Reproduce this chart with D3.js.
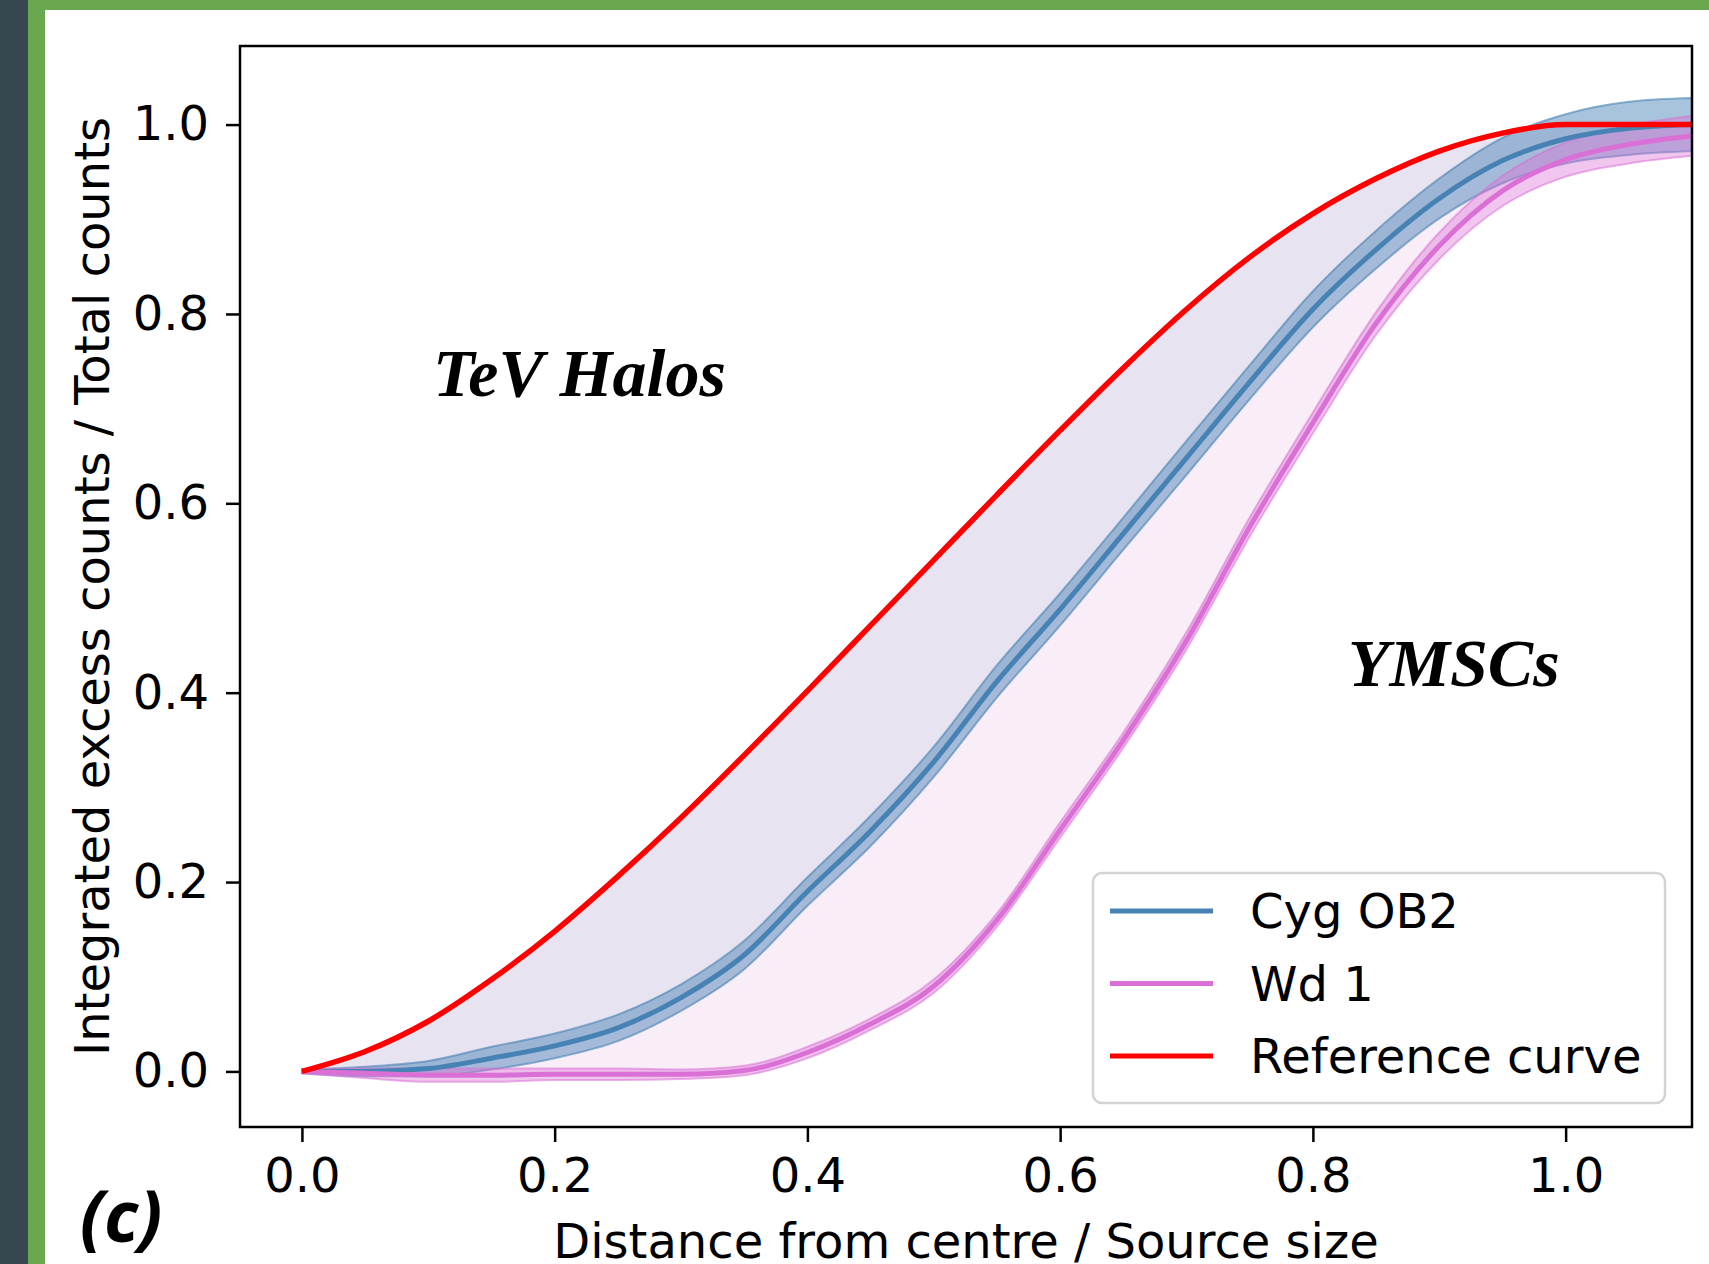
<!DOCTYPE html>
<html>

<head>
    <meta charset="utf-8">
    <title>Integrated excess counts</title>
    <script src="https://d3js.org/d3.v7.min.js"></script>
</head>
<style>
    body {
        margin: 0;
        background: #ffffff;
    }

    svg {
        display: block;
    }

    .tick text {
        font-family: "DejaVu Sans", sans-serif;
        font-size: 48px;
        fill: #000;
    }

    .tick line {
        stroke: #000;
        stroke-width: 2.5px;
    }

    .axis-label {
        font-family: "DejaVu Sans", sans-serif;
        font-size: 48px;
        fill: #000;
    }

    .region-label {
        font-family: "Liberation Serif", serif;
        font-style: italic;
        font-weight: bold;
        font-size: 68px;
        fill: #000;
    }
</style>

<body>
    <svg width="1709" height="1264"></svg>

    <script>
        // distance from centre / source size
        const distance = [0, 0.05, 0.1, 0.15, 0.2, 0.25, 0.3, 0.35, 0.4, 0.45, 0.5, 0.55,
            0.6, 0.65, 0.7, 0.75, 0.8, 0.85, 0.9, 0.95, 1.0, 1.05, 1.1];

        // reference curve
        const referenceCurve = [0, 0.021, 0.053, 0.097, 0.148, 0.206, 0.268, 0.334, 0.402, 0.471, 0.54, 0.609,
            0.677, 0.743, 0.805, 0.86, 0.906, 0.943, 0.972, 0.991, 1.0, 1.0, 1.0];

        // Cyg OB2 median and half width of its band
        const cygOB2 = [0, 0.0, 0.003, 0.014, 0.027, 0.046, 0.078, 0.123, 0.19, 0.254, 0.327, 0.412,
            0.488, 0.568, 0.648, 0.728, 0.805, 0.868, 0.922, 0.962, 0.985, 0.996, 1.0];
        const cygOB2Err = [0.002, 0.005, 0.008, 0.012, 0.013, 0.014, 0.014, 0.015, 0.015, 0.016, 0.016, 0.017,
            0.017, 0.017, 0.018, 0.018, 0.019, 0.02, 0.021, 0.024, 0.026, 0.028, 0.028];

        // Wd 1 median and half width of its band
        const wd1 = [0, -0.002, -0.004, -0.004, -0.003, -0.003, -0.003, 0.001, 0.02, 0.05, 0.09, 0.16,
            0.255, 0.35, 0.455, 0.575, 0.685, 0.79, 0.872, 0.93, 0.963, 0.979, 0.988];
        const wd1Err = [0.002, 0.005, 0.007, 0.007, 0.006, 0.006, 0.005, 0.005, 0.006, 0.006, 0.007, 0.007,
            0.008, 0.008, 0.009, 0.01, 0.011, 0.012, 0.014, 0.016, 0.018, 0.02, 0.021];

        const xTicks = [0, 0.2, 0.4, 0.6, 0.8, 1.0];
        const yTicks = [0, 0.2, 0.4, 0.6, 0.8, 1.0];

        const legendItems = [
            { label: "Cyg OB2", color: "steelblue" },
            { label: "Wd 1", color: "orchid" },
            { label: "Reference curve", color: "red" }
        ];

        const rows = distance.map((d, i) => ({
            x: d,
            ref: referenceCurve[i],
            cyg: cygOB2[i],
            cygErr: cygOB2Err[i],
            wd: wd1[i],
            wdErr: wd1Err[i]
        }));

        const W = 1709, H = 1264;
        const plot = { left: 240, right: 1692, top: 46, bottom: 1127 };

        const svg = d3.select("svg");

        // page frame (dark strip + green border)
        svg.append("rect").attr("x", 0).attr("y", 0).attr("width", 28).attr("height", H).attr("fill", "#37474f");
        svg.append("rect").attr("x", 28).attr("y", 0).attr("width", 17).attr("height", H).attr("fill", "#6aa84f");
        svg.append("rect").attr("x", 28).attr("y", 0).attr("width", W - 28).attr("height", 10).attr("fill", "#6aa84f");

        const x = d3.scaleLinear()
            .domain([-0.049, 1.1])
            .range([plot.left, plot.right]);

        const y = d3.scaleLinear()
            .domain([-0.0587, 1.083])
            .range([plot.bottom, plot.top]);

        svg.append("clipPath").attr("id", "clip")
            .append("rect")
            .attr("x", plot.left).attr("y", plot.top)
            .attr("width", plot.right - plot.left).attr("height", plot.bottom - plot.top);

        const g = svg.append("g").attr("clip-path", "url(#clip)");
        const curve = d3.curveMonotoneX;

        // shaded regions between curves
        g.append("path")
            .datum(rows)
            .attr("fill", "#e8e3f0")
            .attr("d", d3.area().curve(curve).x(d => x(d.x)).y0(d => y(d.cyg)).y1(d => y(d.ref)));

        g.append("path")
            .datum(rows)
            .attr("fill", "#f9edf7")
            .attr("d", d3.area().curve(curve).x(d => x(d.x)).y0(d => y(d.wd)).y1(d => y(d.cyg)));

        // uncertainty bands
        g.append("path")
            .datum(rows)
            .attr("fill", "steelblue")
            .attr("fill-opacity", 0.47)
            .attr("stroke", "steelblue")
            .attr("stroke-opacity", 0.6)
            .attr("stroke-width", 2)
            .attr("d", d3.area().curve(curve).x(d => x(d.x)).y0(d => y(d.cyg - d.cygErr)).y1(d => y(d.cyg + d.cygErr)));

        g.append("path")
            .datum(rows)
            .attr("fill", "orchid")
            .attr("fill-opacity", 0.4)
            .attr("stroke", "orchid")
            .attr("stroke-opacity", 0.55)
            .attr("stroke-width", 2)
            .attr("d", d3.area().curve(curve).x(d => x(d.x)).y0(d => y(d.wd - d.wdErr)).y1(d => y(d.wd + d.wdErr)));

        // median lines
        g.append("path")
            .datum(rows)
            .attr("fill", "none")
            .attr("stroke", "steelblue")
            .attr("stroke-width", 5)
            .attr("d", d3.line().curve(curve).x(d => x(d.x)).y(d => y(d.cyg)));

        g.append("path")
            .datum(rows)
            .attr("fill", "none")
            .attr("stroke", "orchid")
            .attr("stroke-width", 5)
            .attr("d", d3.line().curve(curve).x(d => x(d.x)).y(d => y(d.wd)));

        g.append("path")
            .datum(rows)
            .attr("fill", "none")
            .attr("stroke", "red")
            .attr("stroke-width", 5.5)
            .attr("d", d3.line().curve(curve).x(d => x(d.x)).y(d => y(d.ref)));

        // axes
        svg.append("g")
            .attr("transform", `translate(0,${plot.bottom})`)
            .call(d3.axisBottom(x).tickValues(xTicks).tickFormat(d3.format(".1f")).tickSize(15).tickPadding(16))
            .call(a => a.select(".domain").remove());

        svg.append("g")
            .attr("transform", `translate(${plot.left},0)`)
            .call(d3.axisLeft(y).tickValues(yTicks).tickFormat(d3.format(".1f")).tickSize(14).tickPadding(17))
            .call(a => a.select(".domain").remove());

        // frame
        svg.append("rect")
            .attr("x", plot.left).attr("y", plot.top)
            .attr("width", plot.right - plot.left).attr("height", plot.bottom - plot.top)
            .attr("fill", "none")
            .attr("stroke", "#000")
            .attr("stroke-width", 2.5);

        svg.append("text")
            .attr("class", "axis-label")
            .attr("x", (plot.left + plot.right) / 2)
            .attr("y", 1258)
            .attr("text-anchor", "middle")
            .text("Distance from centre / Source size");

        svg.append("text")
            .attr("class", "axis-label")
            .attr("transform", `translate(109,${(plot.top + plot.bottom) / 2}) rotate(-90)`)
            .attr("text-anchor", "middle")
            .text("Integrated excess counts / Total counts");

        // region labels
        svg.append("text").attr("class", "region-label").attr("x", 433).attr("y", 396).text("TeV Halos");
        svg.append("text").attr("class", "region-label").attr("x", 1348).attr("y", 686).text("YMSCs");

        svg.append("text")
            .attr("x", 80).attr("y", 1242)
            .style("font-family", "'Open Sans', sans-serif")
            .style("font-weight", "bold")
            .style("font-style", "italic")
            .style("font-size", "71px")
            .text("(c)");

        // legend
        const legend = svg.append("g");
        legend.append("rect")
            .attr("x", 1093).attr("y", 873)
            .attr("width", 572).attr("height", 230)
            .attr("rx", 9)
            .attr("fill", "#fff")
            .attr("fill-opacity", 0.85)
            .attr("stroke", "#d3d3d3")
            .attr("stroke-width", 2.5);

        const item = legend.selectAll(".item")
            .data(legendItems)
            .enter()
            .append("g")
            .attr("transform", (d, i) => `translate(0,${911 + i * 72.5})`);

        item.append("line")
            .attr("x1", 1110).attr("x2", 1213)
            .attr("stroke", d => d.color)
            .attr("stroke-width", 5);

        item.append("text")
            .attr("class", "axis-label")
            .attr("x", 1250)
            .attr("y", 17)
            .text(d => d.label);
    </script>
</body>

</html>
